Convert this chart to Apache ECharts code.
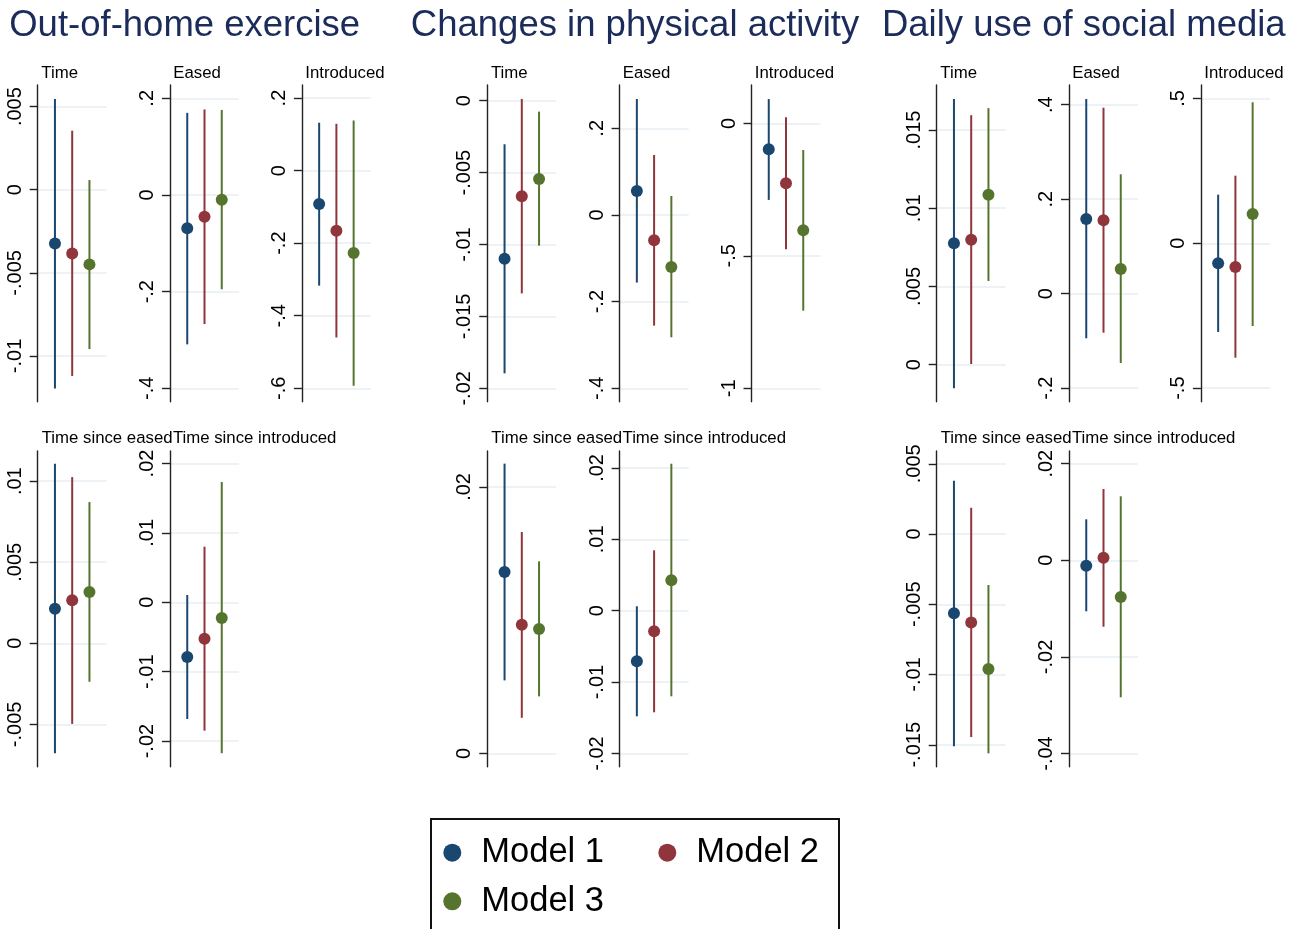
<!DOCTYPE html>
<html>
<head>
<meta charset="utf-8">
<script src="https://cdn.jsdelivr.net/npm/echarts@6/dist/echarts.min.js"></script>
<style>
  html, body { margin: 0; padding: 0; background: #fff; }
  #chart { width: 1299px; height: 929px; }
</style>
</head>
<body>
<div id="chart"></div>
<script>
// ---- labels ----
const outcomeTitles = ['Out-of-home exercise', 'Changes in physical activity', 'Daily use of social media'];
const panelTitles = ['Time', 'Eased', 'Introduced', 'Time since eased', 'Time since introduced'];
const modelNames = ['Model 1', 'Model 2', 'Model 3'];

// ---- Out-of-home exercise: rows = panels, columns = models ----
const exerciseEst = [
  [-0.00323, -0.00383, -0.00449],
  [-0.069, -0.0448, -0.0097],
  [-0.092, -0.1655, -0.227],
  [0.00213, 0.00265, 0.00316],
  [-0.00788, -0.00524, -0.00226]
];
const exerciseLow = [
  [-0.01196, -0.0112, -0.00958],
  [-0.309, -0.267, -0.195],
  [-0.317, -0.46, -0.593],
  [-0.00678, -0.00497, -0.00237],
  [-0.01682, -0.0185, -0.02176]
];
const exerciseHigh = [
  [0.00546, 0.00355, 0.00058],
  [0.170, 0.177, 0.176],
  [0.132, 0.129, 0.138],
  [0.01107, 0.01025, 0.00871],
  [0.00105, 0.00801, 0.01733]
];
const exerciseTicks = [
  [-0.01, -0.005, 0, 0.005],
  [-0.4, -0.2, 0, 0.2],
  [-0.6, -0.4, -0.2, 0, 0.2],
  [-0.005, 0, 0.005, 0.01],
  [-0.02, -0.01, 0, 0.01, 0.02]
];
const exerciseRange = [
  [-0.01275, 0.0063],
  [-0.4276, 0.2276],
  [-0.637, 0.236],
  [-0.00761, 0.01186],
  [-0.02369, 0.0218]
];

// ---- Changes in physical activity ----
const activityEst = [
  [-0.01099, -0.00665, -0.00545],
  [0.0554, -0.0584, -0.12],
  [-0.098, -0.2264, -0.4038],
  [0.01361, 0.00966, 0.00933],
  [-0.00709, -0.00289, 0.00426]
];
const activityLow = [
  [-0.01896, -0.0134, -0.01008],
  [-0.156, -0.2554, -0.2823],
  [-0.289, -0.4755, -0.707],
  [0.00548, 0.00267, 0.00428],
  [-0.01479, -0.01423, -0.01199]
];
const activityHigh = [
  [-0.00303, 0.00012, -0.00076],
  [0.2677, 0.1385, 0.0438],
  [0.0917, 0.0226, -0.1007],
  [0.02175, 0.01662, 0.01442],
  [0.00062, 0.00846, 0.02059]
];
const activityTicks = [
  [-0.02, -0.015, -0.01, -0.005, 0],
  [-0.4, -0.2, 0, 0.2],
  [-1, -0.5, 0],
  [0, 0.02],
  [-0.02, -0.01, 0, 0.01, 0.02]
];
const activityRange = [
  [-0.02093, 0.00109],
  [-0.431, 0.30],
  [-1.0505, 0.1447],
  [-0.001, 0.0227],
  [-0.02185, 0.02237]
];

// ---- Daily use of social media ----
const socialEst = [
  [0.00776, 0.00799, 0.01087],
  [0.158, 0.1553, 0.0523],
  [-0.069, -0.0818, 0.1011],
  [-0.00564, -0.00629, -0.00961],
  [-0.00112, 0.00054, -0.0076]
];
const socialLow = [
  [-0.00151, 0.00004, 0.00535],
  [-0.0944, -0.0825, -0.1467],
  [-0.306, -0.395, -0.2855],
  [-0.01511, -0.01445, -0.01561],
  [-0.01056, -0.01375, -0.02836]
];
const socialHigh = [
  [0.01699, 0.01595, 0.0164],
  [0.412, 0.3937, 0.2527],
  [0.1678, 0.2334, 0.4867],
  [0.00379, 0.00187, -0.00363],
  [0.00849, 0.01476, 0.01325]
];
const socialTicks = [
  [0, 0.005, 0.01, 0.015],
  [-0.2, 0, 0.2, 0.4],
  [-0.5, 0, 0.5],
  [-0.015, -0.01, -0.005, 0, 0.005],
  [-0.04, -0.02, 0, 0.02]
];
const socialRange = [
  [-0.00237, 0.01788],
  [-0.2286, 0.4417],
  [-0.5468, 0.5464],
  [-0.01656, 0.00591],
  [-0.04273, 0.02263]
];

// ---- styling / layout ----
const FONT = '"Liberation Sans", Arial, Helvetica, sans-serif';
const modelColors = ['#1a476f', '#90353b', '#55752f'];
const titleColor = '#1c2c5a';
const groupAxisX = [37.7, 487.3, 936.7];
const colOffset = [0, 132.3, 264.2];
const plotWidth = 69;
const rowTop = [85, 451];
const rowHeight = [316.7, 315.7];
const titleCenters = [184.7, 635, 1083.8];
const topTitleOffset = [22, 27, 43];
const bottomTitleOffset = [4, 2.9];

const outcomes = [
  { est: exerciseEst, low: exerciseLow, high: exerciseHigh, ticks: exerciseTicks, range: exerciseRange },
  { est: activityEst, low: activityLow, high: activityHigh, ticks: activityTicks, range: activityRange },
  { est: socialEst, low: socialLow, high: socialHigh, ticks: socialTicks, range: socialRange }
];

// Stata-style tick text: ".005", "-.2", "0"
function tickText(v) {
  if (Math.abs(v) < 1e-12) return '0';
  const s = String(parseFloat(Number(v).toPrecision(6)));
  return s.replace(/^(-?)0\./, '$1.');
}

function ciRenderer(color) {
  return function (params, api) {
    const x = api.value(0);
    const a = api.coord([x, api.value(2)]);
    const b = api.coord([x, api.value(1)]);
    return {
      type: 'line',
      shape: { x1: a[0], y1: a[1], x2: b[0], y2: b[1] },
      style: { stroke: color, lineWidth: 2 }
    };
  };
}

const grids = [], xAxes = [], yAxes = [], series = [], graphics = [];
let idx = 0;

outcomes.forEach((oc, o) => {
  graphics.push({
    type: 'text', x: titleCenters[o], y: 26, silent: true,
    style: { text: outcomeTitles[o], font: '36.5px ' + FONT, fill: titleColor, textAlign: 'center', textVerticalAlign: 'middle' }
  });
  for (let p = 0; p < 5; p++) {
    const row = p < 3 ? 0 : 1;
    const col = p < 3 ? p : p - 3;
    const left = groupAxisX[o] + colOffset[col];
    grids.push({ left: left, top: rowTop[row], width: plotWidth, height: rowHeight[row], containLabel: false });
    xAxes.push({ type: 'value', gridIndex: idx, min: 0, max: 4, show: false });
    yAxes.push({
      type: 'value', gridIndex: idx,
      min: oc.range[p][0], max: oc.range[p][1],
      axisLine: { show: true, lineStyle: { color: '#222', width: 1.4 } },
      axisTick: { show: true, length: 8, customValues: oc.ticks[p], lineStyle: { color: '#222', width: 1.4 } },
      axisLabel: {
        show: true, customValues: oc.ticks[p], rotate: 90, margin: 12.5,
        fontSize: 20, fontFamily: FONT, color: '#000', formatter: tickText
      },
      splitLine: { show: true, lineStyle: { color: '#e6eef2', width: 1.6 } }
    });

    if (row === 0) {
      graphics.push({
        type: 'text', x: left + topTitleOffset[col], y: 73, silent: true,
        style: { text: panelTitles[p], font: '16.8px ' + FONT, fill: '#000', textAlign: 'center', textVerticalAlign: 'middle' }
      });
    } else {
      graphics.push({
        type: 'text', x: left + bottomTitleOffset[col], y: 438, silent: true,
        style: { text: panelTitles[p], font: '16.8px ' + FONT, fill: '#000', textAlign: 'left', textVerticalAlign: 'middle' }
      });
    }

    modelNames.forEach((m, k) => {
      series.push({
        type: 'scatter', name: m, xAxisIndex: idx, yAxisIndex: idx,
        data: [[k + 1, oc.est[p][k]]],
        symbol: 'circle', symbolSize: 12,
        itemStyle: { color: modelColors[k], opacity: 1 },
        z: 4
      });
      series.push({
        type: 'custom', name: m, xAxisIndex: idx, yAxisIndex: idx,
        data: [[k + 1, oc.low[p][k], oc.high[p][k]]],
        encode: { x: 0, y: [1, 2] },
        itemStyle: { color: modelColors[k] },
        renderItem: ciRenderer(modelColors[k]),
        silent: true, z: 3
      });
    });
    idx++;
  }
});

// legend frame
graphics.push({
  type: 'rect', silent: true,
  shape: { x: 431, y: 819, width: 408, height: 140 },
  style: { fill: 'none', stroke: '#111', lineWidth: 2 }
});

const chart = echarts.init(document.getElementById('chart'), null, { renderer: 'canvas' });
chart.setOption({
  backgroundColor: '#fff',
  animation: false,
  grid: grids,
  xAxis: xAxes,
  yAxis: yAxes,
  series: series,
  graphic: graphics,
  legend: {
    data: modelNames.map(n => ({ name: n, icon: 'circle' })),
    orient: 'horizontal',
    left: 443.3, top: 833.4, width: 430,
    padding: 0,
    itemWidth: 18, itemHeight: 18, itemGap: 10,
    textStyle: { fontSize: 34.5, fontFamily: FONT, color: '#000', width: 167, lineHeight: 38.6, padding: [0, 0, 0, 15] }
  }
});
</script>
</body>
</html>
